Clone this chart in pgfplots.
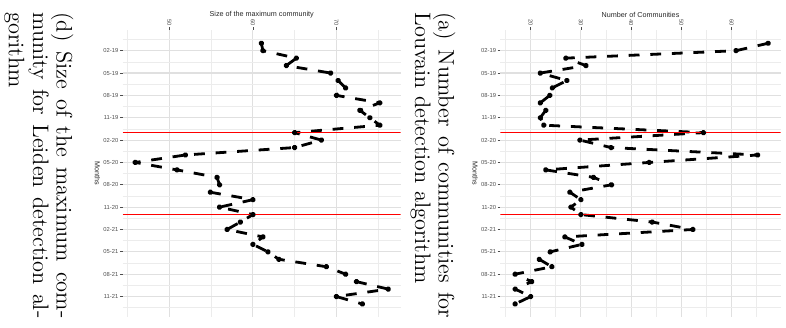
\documentclass[border=0pt]{standalone}
\usepackage{pgfplots}
\pgfplotsset{compat=1.18}
\usepackage{fontspec}
\newfontfamily\lsans{Liberation Sans}
\definecolor{tickgray}{HTML}{4D4D4D}
\definecolor{gridmaj}{HTML}{E0E0E0}
\definecolor{gridmin}{HTML}{ECECEC}
\newcommand{\tickfont}{\lsans\fontsize{2.9pt}{3.2pt}\selectfont}
\newcommand{\titfont}{\lsans\fontsize{3.6pt}{4pt}\selectfont}
\newcommand{\capfont}{\fontsize{11.2pt}{12pt}\selectfont}
\pgfplotsset{
  myax/.style={
    scale only axis, height=143.4pt,
    ymin=-1.75, ymax=36.75, y dir=reverse,
    axis line style={draw=none},
    grid=both,
    major grid style={gridmaj, line width=0.55pt},
    minor grid style={gridmin, line width=0.35pt},
    tick align=outside,
    major tick length=1.4pt, minor tick length=0pt,
    tick style={tickgray, line width=0.35pt},
    xtick pos=right, ytick pos=left,
    xticklabel pos=right,
    ytick={1,4,...,34},
    yticklabels={02-19,05-19,08-19,11-19,02-20,05-20,08-20,11-20,02-21,05-21,08-21,11-21},
    minor ytick={-0.5,2.5,...,35.5},
    yticklabel style={font=\tickfont, text=tickgray, inner sep=0.6pt},
    xticklabel style={font=\tickfont, text=tickgray, rotate=-90, anchor=east, inner sep=0.6pt},
  },
  dline/.style={black, line width=1.4pt, line join=round, line cap=butt,
    dash pattern=on 5.4pt off 5.4pt,
    mark=*, mark size=0.75pt, mark options={solid, draw=none, fill=black}},
  rline/.style={red, line width=0.5pt},
}
\begin{document}
\begin{tikzpicture}
\useasboundingbox (0,0) rectangle (393pt,-163.5pt);

% ---------- panel (d) ----------
\begin{axis}[myax, name=dax, at={(61.35pt,-15.1pt)}, anchor=north west,
  width=139pt, xmin=44.4, xmax=77.7,
  xtick={50,60,70}, xticklabels={50,60,70}, minor xtick={45,55,65,75}]
\addplot[dline] coordinates {
(61.0,0)(61.2,1)(65.2,2)(64.0,3)(69.3,4)(70.2,5)(71.1,6)(70.0,7)(75.2,8)(72.8,9)
(74.0,10)(75.2,11)(65.0,12)(68.2,13)(65.0,14)(51.9,15)(45.9,16)(50.9,17)(55.7,18)(56.0,19)
(54.9,20)(60.0,21)(56.0,22)(60.0,23)(58.5,24)(56.9,25)(61.2,26)(60.0,27)(61.8,28)(63.1,29)
(68.8,30)(71.1,31)(72.4,32)(76.2,33)(70.0,34)(73.1,35)};
\addplot[rline] coordinates {(44.4,12)(77.7,12)};
\addplot[rline] coordinates {(44.4,23)(77.7,23)};
\end{axis}
\node[font=\titfont, text=black!85] at ([yshift=7.6pt]dax.north) {Size of the maximum community};
\node[font=\titfont, text=black!85, rotate=-90] at ([xshift=-12.6pt]dax.west) {Months};

% ---------- panel (a) ----------
\begin{axis}[myax, name=aax, at={(250.2pt,-15.1pt)}, anchor=north west,
  width=140.15pt, xmin=13.96, xmax=69.8,
  xtick={20,30,40,50,60}, xticklabels={20,30,40,50,60}, minor xtick={15,25,35,45,55,65}]
\addplot[dline] coordinates {
(67.3,0)(60.9,1)(27.0,2)(31.0,3)(21.9,4)(27.2,5)(24.3,6)(23.8,7)(21.9,8)(23.0,9)
(21.9,10)(22.6,11)(54.4,12)(29.8,13)(36.0,14)(65.2,15)(43.6,16)(23.0,17)(32.5,18)(36.1,19)
(27.8,20)(30.0,21)(28.0,22)(30.0,23)(44.2,24)(52.3,25)(26.8,26)(30.2,27)(23.9,28)(21.7,29)
(24.2,30)(16.9,31)(20.2,32)(16.9,33)(20.0,34)(16.9,35)};
\addplot[rline] coordinates {(13.96,12)(69.8,12)};
\addplot[rline] coordinates {(13.96,23)(69.8,23)};
\end{axis}
\node[font=\titfont, text=black!85] at ([yshift=7.6pt]aax.north) {Number of Communities};
\node[font=\titfont, text=black!85, rotate=-90] at ([xshift=-12.6pt]aax.west) {Months};

% ---------- captions ----------
\node[font=\capfont, rotate=-90, anchor=base west, inner sep=0pt] at (28.35pt,-6pt) {\makebox[153pt][s]{(d) Size of the maximum com-}};
\node[font=\capfont, rotate=-90, anchor=base west, inner sep=0pt] at (16.5pt,-6pt) {\makebox[153pt][s]{munity for Leiden detection al-}};
\node[font=\capfont, rotate=-90, anchor=base west, inner sep=0pt] at (4.5pt,-6pt) {gorithm};
\node[font=\capfont, rotate=-90, anchor=base west, inner sep=0pt] at (219.35pt,-6pt) {\makebox[153pt][s]{(a) Number of communities for}};
\node[font=\capfont, rotate=-90, anchor=base west, inner sep=0pt] at (207.5pt,-6pt) {Louvain detection algorithm};
\end{tikzpicture}
\end{document}
